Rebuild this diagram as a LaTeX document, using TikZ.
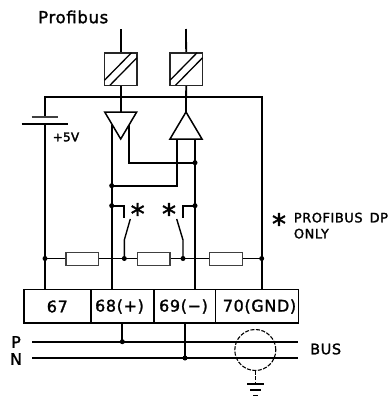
\documentclass[tikz,border=0pt]{standalone}
\usepackage{fontspec}
\setmainfont{DejaVu Sans}
\newfontfamily\lbl[FakeBold=1.6,LetterSpace=4]{DejaVu Sans}
\newfontfamily\lblb[FakeBold=2.6,LetterSpace=2]{DejaVu Sans}
\usetikzlibrary{calc}
\tikzset{
  x=1pt,y=-1pt,
  wire/.style={line width=1.8pt,line join=miter},
  thin wire/.style={line width=1.4pt},
  res/.style={draw=black!75,line width=1.4pt,fill=white,minimum width=32.5pt,minimum height=13pt,inner sep=0pt,outer sep=0pt},
  iso/.style={draw=black!85,line width=1.5pt,fill=white,minimum width=32.5pt,minimum height=32.5pt,inner sep=0pt,outer sep=0pt},
  term/.style={draw,line width=1.6pt,minimum height=33.4pt,inner sep=0pt,outer sep=0pt,anchor=north west},
  dot/.style={circle,fill=black,inner sep=0pt,minimum size=5pt},
  txt/.style={inner sep=0pt,font=\lbl\fontsize{#1}{#1}\selectfont},
}
\begin{document}
\begin{tikzpicture}
\useasboundingbox (0,0) rectangle (391,397);
% coordinates
\coordinate (TLa) at (120.7,29);
\coordinate (TLb) at (186,29);
\coordinate (triLtop) at (120.7,112);
\coordinate (triRapex) at (186,112);
\coordinate (oTL) at (45,97);
\coordinate (oTR) at (261.7,97);
\coordinate (pl1) at (45,117);
\coordinate (pl2) at (45,124.3);
\coordinate (rA) at (45,258.5);
\coordinate (rB) at (124.3,258.5);
\coordinate (rC) at (183,258.5);
\coordinate (rD) at (261.7,258.5);
% isolators
\node[iso] (isoA) at (120.7,69) {};
\node[iso] (isoB) at (186.3,69) {};
\draw[wire] (TLa) -- (isoA);
\draw[wire] (TLb) -- (isoB);
\draw[wire] (isoA) -- (triLtop);
\draw[wire] (isoB) -- (triRapex);
\node[iso] at (120.7,69) {};
\node[iso] at (186.3,69) {};
\foreach \b in {isoA,isoB}{
  \draw[line width=1.3pt] ($(\b.south west)+(0,-5)$) -- ($(\b.north east)+(-5.5,0)$);
  \draw[line width=1.3pt] ($(\b.south west)+(5.5,0)$) -- ($(\b.north east)+(0,5)$);
}
% outer supply wires
\draw[wire] (pl1) -- (oTL) -- (oTR) -- (261.7,289.3);
\draw[wire] (pl2) -- (45,289.3);
\draw[wire] (21.7,124.3) -- (67.7,124.3);
\draw[thin wire,draw=black!75] (31.7,117) -- (58,117);
\node[inner sep=0pt,font=\lblb\fontsize{12}{12}\selectfont] (v5) at (66,137) {+5V};
% drivers
\draw[line width=1.5pt,fill=white] (104.7,112) -- (136.7,112) -- (120.7,139) -- cycle;
\draw[line width=1.5pt,fill=white] (186,112) -- (202,139) -- (170,139) -- cycle;
\coordinate (j1) at (195,162.7);
\coordinate (j2) at (111.7,185.7);
\coordinate (j3) at (111.7,205.7);
\coordinate (j4) at (195,205.7);
\draw[wire] (111.7,125) -- (111.7,289.3);
\draw[wire] (195,139) -- (195,289.3);
\draw[wire] (129,125) -- (129,162.7) -- (j1);
\draw[wire] (177,139) -- (177,185.7) -- (j2);
% switches
\draw[wire] (j3) -- (124.3,205.7) -- (124.3,217.7);
\draw[wire] (j4) -- (183,205.7) -- (183,217.7);
\draw[line width=1.4pt] (130.3,219) -- (124.3,240) -- (rB);
\draw[line width=1.4pt] (176.7,219) -- (183,240) -- (rC);
\node[txt=28] (s1) at (137.7,213.5) {*};
\node[txt=28] (s2) at (169,213.5) {*};
% resistor line
\draw[wire] (rA) -- (rD);
\node[res] (r1) at (82.3,258.7) {};
\node[res] (r2) at (153.7,258.7) {};
\node[res] (r3) at (226,258.7) {};
\foreach \c in {rA,rB,rC,rD,j1,j2,j3,j4}{\node[dot] at (\c) {};}
% note
\node[txt=28] (s3) at (279,223.5) {*};
\node[txt=13,anchor=north west,align=left] (n1) at (293.7,212.5) {PROFIBUS\hspace{7pt}DP\\[3pt]ONLY};
\node[txt=16.5,anchor=west] (prof) at (38,17) {Profibus};
% terminal block
\node[term,minimum width=66.7pt] (t67) at (24,289.3) {};
\node[term,minimum width=63pt] (t68) at (90.7,289.3) {};
\node[term,minimum width=61.6pt] (t69) at (153.7,289.3) {};
\node[term,minimum width=83pt] (t70) at (215.3,289.3) {};
\node[txt=16] (l67) at (57.3,306.5) {67};
\node[txt=16] (l68) at (119.5,306.5) {68(+)};
\node[txt=16] (l69) at (183.5,306.5) {69(−)};
\node[txt=16] (l70) at (259.5,306.5) {70(GND)};
% bus
\coordinate (pL) at (32.3,341.7);
\coordinate (pR) at (298.3,341.7);
\coordinate (nL) at (32.3,358);
\coordinate (nR) at (298.3,358);
\coordinate (jp) at (122.3,341.7);
\coordinate (jn) at (185,358);
\draw[wire] (pL) -- (pR);
\draw[wire] (nL) -- (nR);
\draw[wire] (122.3,322.7) -- (jp);
\draw[wire] (185,322.7) -- (jn);
\node[dot] at (jp) {};
\node[dot] at (jn) {};
\node[txt=16] (lP) at (16,342) {P};
\node[txt=16] (lN) at (16,359) {N};
\node[txt=14.5,anchor=west] (lB) at (310,349) {BUS};
\node[circle,draw,line width=1.1pt,dash pattern=on 4pt off 1.5pt,minimum size=41pt,inner sep=0pt,outer sep=0pt] (scr) at (255.3,350) {};
\coordinate (g) at (255.3,384);
\draw[line width=1.1pt,dash pattern=on 4pt off 1.5pt] (scr.south) -- (g);
\draw[line width=1.3pt] (247,384) -- (263.5,384);
\draw[line width=1.3pt] (250,390) -- (260.5,390);
\draw[line width=1.3pt] (253,395.5) -- (257.5,395.5);
\end{tikzpicture}
\end{document}
